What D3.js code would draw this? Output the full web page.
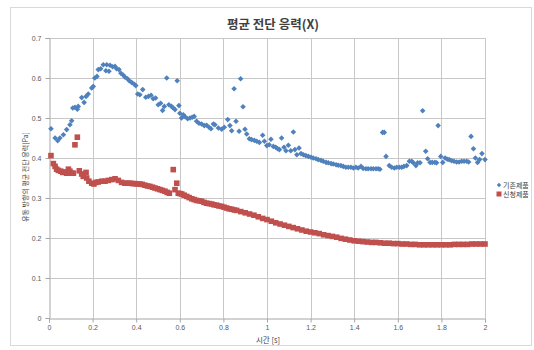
<!DOCTYPE html>
<html><head><meta charset="utf-8">
<script src="https://cdn.jsdelivr.net/npm/d3@7"></script>
<style>
html,body{margin:0;padding:0;background:#fff;}
svg text{font-family:"Noto Sans CJK KR","Noto Sans",sans-serif;}
</style></head>
<body><svg id="c" width="534" height="350"></svg>
<script>
const title = "평균 전단 응력(X)";
const yLabel = "유동 방향의 평균 전단 응력[Pa]";
const xLabel = "시간 [s]";
const seriesNames = ["기존제품", "신청제품"];
const xTicks = [0, 0.2, 0.4, 0.6, 0.8, 1, 1.2, 1.4, 1.6, 1.8, 2];
const yTicks = [0, 0.1, 0.2, 0.3, 0.4, 0.5, 0.6, 0.7];

const blueT = [0.009,0.028,0.04,0.05,0.066,0.081,0.096,0.104,0.109,0.119,0.13,0.134,0.15,0.161,0.17,0.18,0.196,0.203,0.21,0.22,0.226,0.237,0.249,0.261,0.265,0.275,0.28,0.292,0.303,0.31,0.321,
0.33,0.341,0.349,0.36,0.368,0.379,0.39,0.398,0.407,0.417,0.43,0.444,0.456,0.468,0.478,0.489,0.501,0.512,0.521,0.529,0.54,0.55,0.562,0.57,0.578,0.588,0.596,0.6,
0.608,0.616,0.624,0.636,0.647,0.657,0.666,0.677,0.688,0.7,0.712,0.723,0.734,0.743,0.754,
0.761,0.777,0.792,0.804,0.82,0.83,0.838,0.849,0.858,0.872,0.879,0.89,0.899,0.907,0.919,0.929,0.942,0.953,0.965,0.98,0.988,0.999,1.01,1.018,1.029,1.04,1.049,1.057,1.067,1.078,1.087,1.098,1.109,1.121,1.128,1.137,1.147,1.156,
1.167,1.178,1.19,1.202,1.212,1.225,1.235,1.248,1.258,1.271,1.281,1.294,1.304,1.317,1.327,1.339,1.35,1.362,1.373,1.385,1.396,1.408,1.418,1.431,1.441,1.454,1.464,1.477,1.488,1.5,1.51,
1.518,1.53,1.538,1.546,1.561,1.572,1.584,1.595,1.607,1.618,1.628,1.641,1.653,1.664,1.671,1.683,1.691,1.702,1.714,1.728,1.737,1.748,1.758,1.77,1.778,1.785,1.797,1.806,1.817,1.827,1.836,1.847,1.858,1.87,1.881,1.893,1.904,1.916,1.925,1.936,1.947,1.956,1.966,1.975,1.986,2.0];
const blueV = [0.473,0.45,0.443,0.45,0.458,0.471,0.483,0.493,0.525,0.527,0.522,0.529,0.551,0.539,0.554,0.56,0.575,0.579,0.6,0.604,0.621,0.623,0.633,0.618,0.633,0.617,0.632,0.628,0.629,0.623,0.621,
0.612,0.607,0.602,0.598,0.593,0.589,0.585,0.581,0.56,0.558,0.571,0.552,0.554,0.557,0.548,0.55,0.533,0.537,0.519,0.529,0.6,0.533,0.529,0.525,0.521,0.593,0.531,0.512,
0.5,0.508,0.503,0.498,0.5,0.502,0.504,0.492,0.487,0.485,0.481,0.482,0.477,0.473,0.485,
0.483,0.475,0.472,0.477,0.496,0.481,0.468,0.573,0.492,0.467,0.598,0.528,0.472,0.46,0.448,0.446,0.444,0.442,0.439,0.457,0.442,0.431,0.433,0.447,0.429,0.427,0.423,0.421,0.45,0.427,0.418,0.432,0.418,0.465,0.421,0.408,0.425,0.411,
0.408,0.406,0.404,0.402,0.4,0.398,0.396,0.394,0.392,0.389,0.388,0.386,0.385,0.383,0.382,0.381,0.379,0.377,0.377,0.377,0.375,0.377,0.375,0.379,0.374,0.373,0.373,0.373,0.373,0.373,0.373,
0.372,0.464,0.464,0.404,0.381,0.377,0.375,0.377,0.377,0.377,0.379,0.381,0.392,0.392,0.388,0.381,0.388,0.388,0.518,0.417,0.398,0.389,0.389,0.389,0.388,0.481,0.404,0.389,0.4,0.397,0.396,0.393,0.392,0.39,0.39,0.392,0.392,0.392,0.39,0.454,0.423,0.4,0.389,0.396,0.411,0.396];

const redT = [0.009,0.02,0.028,0.035,0.043,0.054,0.063,0.073,0.081,0.089,0.096,0.104,0.112,0.119,0.13,0.139,0.15,0.157,0.17,0.173,0.183,0.196,0.206,0.216,0.226,0.242,0.257,0.272,0.288,0.303,0.318,0.333,0.348,0.36,0.372,0.383,0.394,0.405,0.417,0.428,0.44,0.452,0.463,0.475,0.486,0.498,0.509,0.52,0.532,0.542,0.552,0.57,0.578,0.586,0.593,0.601,0.609,0.62,0.632,0.643,0.655,0.666,0.677,0.688,0.7,0.711,0.723,0.734,0.746,0.757,0.769,0.78,0.792,0.803,0.815,0.826,0.838,0.85,0.861,
0.88,0.9,0.92,0.94,0.96,0.98,1.0,1.02,1.04,1.06,1.08,1.1,1.12,1.14,1.16,1.18,1.2,1.22,1.24,1.26,1.28,1.3,1.32,1.34,1.36,1.38,1.4,1.42,1.44,1.46,1.48,1.5,1.52,1.54,1.56,1.58,1.6,1.62,1.64,1.66,1.68,1.7,1.72,1.74,1.76,1.78,1.8,1.82,1.84,1.86,1.88,1.9,1.92,1.94,1.96,1.98,2.0];
const redV = [0.406,0.386,0.379,0.372,0.369,0.367,0.364,0.365,0.362,0.372,0.367,0.362,0.362,0.433,0.452,0.368,0.36,0.354,0.364,0.35,0.342,0.337,0.335,0.339,0.34,0.342,0.342,0.344,0.346,0.348,0.344,0.339,0.337,0.337,0.337,0.336,0.336,0.335,0.335,0.334,0.332,0.33,0.329,0.327,0.325,0.323,0.321,0.319,0.317,0.314,0.312,0.371,0.321,0.337,0.312,0.311,0.31,0.307,0.304,0.301,0.298,0.296,0.294,0.293,0.292,0.289,0.287,0.286,0.285,0.283,0.282,0.28,0.279,0.277,0.275,0.273,0.272,0.27,0.269,
0.266,0.263,0.26,0.257,0.253,0.249,0.246,0.242,0.238,0.235,0.232,0.229,0.226,0.223,0.22,0.217,0.215,0.213,0.211,0.208,0.206,0.204,0.202,0.199,0.197,0.195,0.193,0.192,0.191,0.19,0.189,0.189,0.188,0.187,0.187,0.186,0.186,0.185,0.185,0.184,0.184,0.183,0.183,0.183,0.183,0.183,0.183,0.183,0.183,0.184,0.184,0.184,0.184,0.185,0.185,0.185,0.185];

const colors = ["#4f81bd", "#c0504d"];

const svg = d3.select("#c");
const M = {left: 49, right: 485, top: 38, bottom: 318};
const x = d3.scaleLinear().domain([0, 2]).range([M.left, M.right]);
const y = d3.scaleLinear().domain([0, 0.7]).range([M.bottom, M.top]);

// outer chart border
svg.append("rect").attr("x", 10.5).attr("y", 7.5).attr("width", 521).attr("height", 338)
  .attr("fill", "#fff").attr("stroke", "#d9d9d9");

// gridlines
svg.append("g").selectAll("line").data(yTicks.filter(d => d > 0)).join("line")
  .attr("x1", M.left).attr("x2", M.right)
  .attr("y1", d => Math.round(y(d)) + 0.5).attr("y2", d => Math.round(y(d)) + 0.5)
  .attr("stroke", "#c8c8c8");
svg.append("g").selectAll("line").data(xTicks.filter(d => d > 0)).join("line")
  .attr("y1", M.top).attr("y2", M.bottom)
  .attr("x1", d => Math.round(x(d)) + 0.5).attr("x2", d => Math.round(x(d)) + 0.5)
  .attr("stroke", "#c8c8c8");

// axes
const yAxis = svg.append("g").attr("transform", `translate(${M.left + 0.5},0)`)
  .call(d3.axisLeft(y).tickValues(yTicks).tickSize(4).tickPadding(4).tickFormat(d => d3.format("~g")(d)));
const xAxis = svg.append("g").attr("transform", `translate(0,${M.bottom + 0.5})`)
  .call(d3.axisBottom(x).tickValues(xTicks).tickSize(4).tickPadding(3).tickFormat(d => d3.format("~g")(d)));
[yAxis, xAxis].forEach(a => {
  a.select(".domain").attr("stroke", "#a6a6a6");
  a.selectAll(".tick line").attr("stroke", "#a6a6a6");
  a.selectAll(".tick text").attr("fill", "#595959").style("font-size", "7px")
    .style("font-family", "'Liberation Sans', Arial, sans-serif");
});

// series
const diamond = s => `M0,${-s}L${s},0L0,${s}L${-s},0Z`;
const blue = blueT.map((t, i) => [t, blueV[i]]);
const red = redT.map((t, i) => [t, redV[i]]);

svg.append("g").selectAll("path").data(blue).join("path")
  .attr("d", diamond(2.8))
  .attr("transform", d => `translate(${x(d[0])},${y(d[1])})`)
  .attr("fill", colors[0]);

svg.append("g").selectAll("rect").data(red).join("rect")
  .attr("x", d => x(d[0]) - 2.8).attr("y", d => y(d[1]) - 2.8)
  .attr("width", 5.6).attr("height", 5.6)
  .attr("fill", colors[1]);

// title
svg.append("text").attr("x", 273).attr("y", 29).attr("text-anchor", "middle")
  .attr("fill", "#404040").style("font-size", "12.5px").style("font-weight", "bold").text(title);

// axis titles
svg.append("text").attr("transform", "translate(28,177) rotate(-90)").attr("text-anchor", "middle")
  .attr("fill", "#404040").style("font-size", "7px").text(yLabel);
svg.append("text").attr("x", 268).attr("y", 343).attr("text-anchor", "middle")
  .attr("fill", "#404040").style("font-size", "7.5px").text(xLabel);

// legend
const lg = svg.append("g");
seriesNames.forEach((n, i) => {
  const ly = 185 + i * 9;
  if (i === 0) lg.append("path").attr("d", diamond(2.2)).attr("transform", `translate(499,${ly})`).attr("fill", colors[0]);
  else lg.append("rect").attr("x", 496.5).attr("y", ly - 2.5).attr("width", 5).attr("height", 5).attr("fill", colors[1]);
  lg.append("text").attr("x", 503).attr("y", ly + 2.5).attr("fill", "#404040").style("font-size", "7px").text(n);
});
</script></body></html>
